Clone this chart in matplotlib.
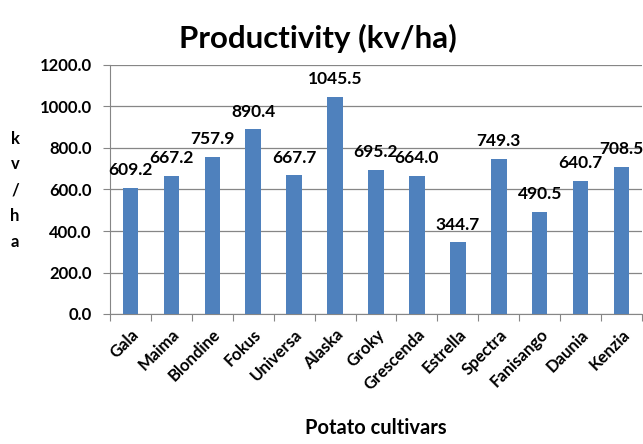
import numpy as np
import matplotlib.pyplot as plt

cultivars = ['Gala', 'Maima', 'Blondine', 'Fokus', 'Universa', 'Alaska', 'Groky',
             'Grescenda', 'Estrella', 'Spectra', 'Fanisango', 'Daunia', 'Kenzia']
productivity = [609.2, 667.2, 757.9, 890.4, 667.7, 1045.5, 695.2,
                664.0, 344.7, 749.3, 490.5, 640.7, 708.5]
y_ticks = [0, 200, 400, 600, 800, 1000, 1200]

plt.rcParams['font.family'] = ['Lato', 'DejaVu Sans']

fig = plt.figure(figsize=(6.43, 4.44), dpi=100)
ax = fig.add_axes([110/643, 1 - 314/444, 532/643, 249/444])

x = np.arange(len(cultivars))
bars = ax.bar(x, productivity, width=0.38, color='#4F81BD', zorder=3)

for xi, v in zip(x, productivity):
    ax.annotate(f'{v:.1f}', (xi, v), xytext=(0, 7), textcoords='offset points',
                ha='center', va='bottom', fontsize=12.5, fontweight='bold', zorder=4)

ax.set_xlim(-0.5, len(cultivars) - 0.5)
ax.set_ylim(0, 1200)
ax.set_yticks(y_ticks)
ax.set_yticklabels([f'{t:.1f}' for t in y_ticks], fontsize=12, fontweight='bold')
ax.yaxis.grid(True, color='#868686', linewidth=0.9, zorder=0)

# category boundaries carry the tick marks, names sit at bar centres
ax.set_xticks(np.arange(len(cultivars) + 1) - 0.5)
ax.set_xticklabels([])
ax.set_xticks(x, minor=True)
ax.set_xticklabels(cultivars, minor=True, rotation=45, ha='right',
                   rotation_mode='anchor', fontsize=12, fontweight='bold')
ax.tick_params(axis='x', which='minor', length=0, pad=9)
ax.tick_params(axis='x', which='major', length=5, color='#868686')
ax.tick_params(axis='y', length=5, color='#868686', pad=8)

for side in ['top', 'right']:
    ax.spines[side].set_visible(False)
for side in ['left', 'bottom']:
    ax.spines[side].set_color('#868686')

fig.text(318/643, 1 - 38/444, 'Productivity (kv/ha)', ha='center', va='center',
         fontsize=22.5, fontweight='bold')
fig.text(15/643, 1 - 190/444, 'k\nv\n/\nh\na', ha='center', va='center',
         fontsize=12, fontweight='bold', linespacing=1.75)
fig.text(376/643, 1 - 428/444, 'Potato cultivars', ha='center', va='center',
         fontsize=14.5, fontweight='bold')

fig.savefig('out.png', dpi=100)
